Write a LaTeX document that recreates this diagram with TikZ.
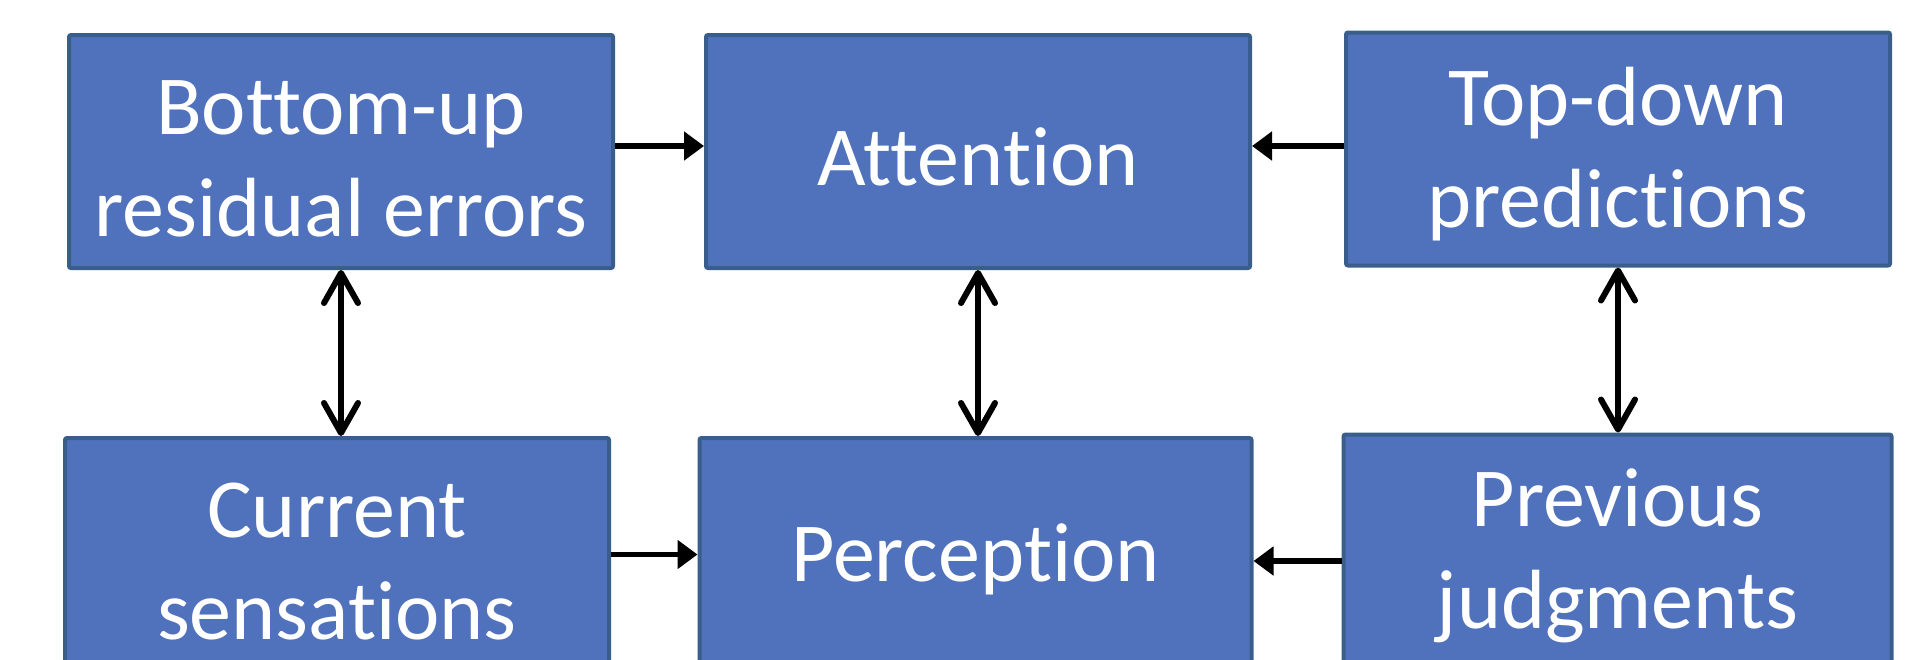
\documentclass[tikz,border=0pt]{standalone}
\usepackage{fontspec}
\setmainfont[Ligatures={NoCommon,NoContextual}]{Carlito}
\usetikzlibrary{arrows.meta}
\definecolor{boxfill}{RGB}{80,114,188}
\definecolor{boxline}{RGB}{58,94,140}
\newcommand{\topstrut}{\rule{0pt}{34pt}}
\tikzset{
  box/.style={draw=boxline, fill=boxfill, line width=2pt, rounded corners=1pt,
    minimum width=272pt, minimum height=116.5pt, inner sep=0pt,
    text=white, align=center, font=\fontsize{42}{51}\selectfont},
  harrow/.style={line width=2.75pt, -{Triangle[length=10pt,width=14pt]}},
  varrow/.style={line width=3pt, {Straight Barb[length=15pt,width=17pt,round]}-{Straight Barb[length=15pt,width=17pt,round]}}
}
\begin{document}
\begin{tikzpicture}[x=0.5pt,y=-0.5pt]
\useasboundingbox (0,0) rectangle (1909,659);
\clip (0,0) rectangle (1909,659);
\node[box] (bu) at (341,151.5) {\topstrut Bottom-up\\residual errors};
\node[box] (at) at (978,151.5) {\topstrut Attention};
\node[box] (td) at (1618,149) {\topstrut Top-down\\predictions};
\node[box] (cs) at (337,554.5) {\topstrut Current\\sensations};
\node[box, minimum width=276pt] (pe) at (975.5,554.5) {\topstrut Perception};
\node[box, minimum width=274pt] (pj) at (1617.5,551) {\topstrut Previous\\judgments};
\draw[harrow] ([yshift=2.75pt]bu.east) -- ([yshift=2.75pt]bu.east -| at.west);
\draw[harrow] ([yshift=1.5pt]td.west) -- ([yshift=1.5pt]td.west -| at.east);
\draw[harrow] (cs.east) -- (cs.east -| pe.west);
\draw[harrow] ([yshift=-5pt]pj.west) -- ([yshift=-5pt]pj.west -| pe.east);
\draw[varrow] (bu.south) -- (bu.south |- cs.north);
\draw[varrow] (at.south) -- (at.south |- pe.north);
\draw[varrow] (td.south) -- (td.south |- pj.north);
\end{tikzpicture}
\end{document}
